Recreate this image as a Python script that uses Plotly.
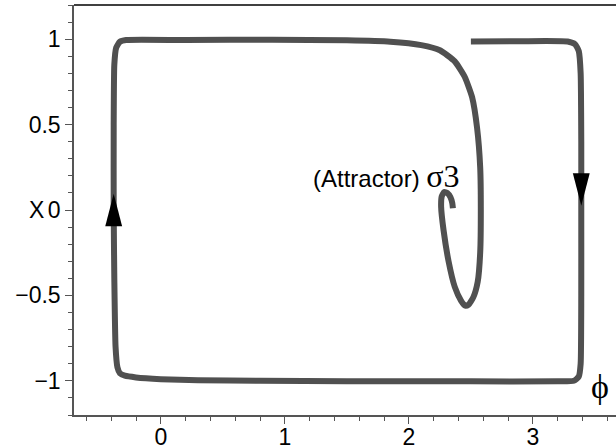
import plotly.graph_objects as go

# trajectory in the (phi, X0) plane
phi = [2.50, 2.90, 3.28, 3.34, 3.37, 3.385, 3.39, 3.39, 3.39, 3.385, 3.37, 3.33,
       3.20, 2.50, 1.50, 0.80, 0.30, 0.00, -0.20, -0.29, -0.33, -0.35, -0.365,
       -0.375, -0.38, -0.38, -0.375, -0.36, -0.33, -0.28, 0.20, 0.90, 1.50, 1.85,
       2.10, 2.25, 2.37, 2.45, 2.51, 2.55, 2.575, 2.58, 2.575, 2.555, 2.52, 2.48,
       2.455, 2.42, 2.37, 2.32, 2.28, 2.26, 2.265, 2.285, 2.31, 2.335, 2.35, 2.355]
x0 = [0.986, 0.988, 0.986, 0.97, 0.93, 0.80, 0.40, 0.0, -0.50, -0.90, -0.975, -1.0,
      -1.003, -1.003, -1.003, -1.0, -0.997, -0.99, -0.98, -0.97, -0.955, -0.92, -0.80,
      -0.40, 0.0, 0.50, 0.85, 0.95, 0.985, 0.995, 0.995, 0.997, 0.993, 0.985,
      0.965, 0.935, 0.87, 0.78, 0.66, 0.48, 0.25, 0.0, -0.25, -0.42, -0.51, -0.555,
      -0.56, -0.53, -0.45, -0.30, -0.12, 0.02, 0.08, 0.105, 0.10, 0.075, 0.04, 0.01]

# direction arrows: tip position and direction (+1 up, -1 down)
arrow_phi = [-0.38, 3.39]
arrow_x0 = [0.095, 0.025]
arrow_dir = [1, -1]

x_ticks = [0, 1, 2, 3]
y_ticks = [-1, -0.5, 0, 0.5, 1]
y_ticktext = ['\u22121', '\u22120.5', '0', '0.5', '1']

fig = go.Figure()

fig.add_trace(
    go.Scatter(
        x=phi,
        y=x0,
        mode='lines',
        line=dict(color='#505050', width=6, shape='spline', smoothing=0.5),
        hoverinfo='skip',
    )
)

half_w = 0.068
length = 0.19
for ax, ay, d in zip(arrow_phi, arrow_x0, arrow_dir):
    base = ay - d * length
    fig.add_trace(
        go.Scatter(
            x=[ax, ax - half_w, ax + half_w, ax],
            y=[ay, base, base, ay],
            mode='lines',
            fill='toself',
            fillcolor='black',
            line=dict(width=0, color='black'),
            hoverinfo='skip',
        )
    )

fig.add_annotation(
    x=2.425, y=0.2, xref='x', yref='y',
    text='(Attractor) <span style="font-family:Liberation Serif, DejaVu Serif; font-size:32px">\u03c33</span>',
    showarrow=False, xanchor='right', yanchor='middle',
    font=dict(family='Liberation Sans, Arial', size=24, color='black'),
)
fig.add_annotation(
    x=3.54, y=-1.035, xref='x', yref='y',
    text='\u03d5', showarrow=False, xanchor='center', yanchor='middle',
    font=dict(family='Liberation Serif, DejaVu Serif', size=34, color='black'),
)
fig.add_annotation(
    x=-0.069, y=0, xref='paper', yref='y',
    text='X', showarrow=False, xanchor='center', yanchor='middle',
    font=dict(family='Liberation Sans, Arial', size=23, color='black'),
)

# top border only (the right side is cut off in the original)
fig.add_shape(type='line', xref='paper', yref='paper', x0=0, x1=1, y0=1, y1=1,
              line=dict(color='black', width=1.5))

fig.update_xaxes(
    range=[-0.7, 3.67],
    tickvals=x_ticks,
    ticks='outside', ticklen=7, tickcolor='#555555', tickwidth=1,
    showline=True, linecolor='#555555', linewidth=1.5,
    showgrid=False, zeroline=False, automargin=False,
    ticklabelstandoff=-6,
    minor=dict(dtick=0.2, tick0=0, ticks='outside', ticklen=4, tickcolor='#555555'),
    tickfont=dict(family='Liberation Sans, Arial', size=23, color='black'),
)
fig.update_yaxes(
    range=[-1.2, 1.2],
    tickvals=y_ticks, ticktext=y_ticktext,
    ticks='outside', ticklen=7, tickcolor='#555555', tickwidth=1,
    showline=True, linecolor='#555555', linewidth=1.5,
    showgrid=False, zeroline=False, automargin=False,
    minor=dict(dtick=0.1, tick0=0, ticks='outside', ticklen=4, tickcolor='#555555'),
    tickfont=dict(family='Liberation Sans, Arial', size=23, color='black'),
)

fig.update_layout(
    width=616, height=446,
    margin=dict(l=74, r=0, t=5, b=31),
    plot_bgcolor='white', paper_bgcolor='white',
    showlegend=False,
)

# drop the page's default body margin so the figure sits at the window corner
fig.write_html("out.html", config={'displayModeBar': False},
               post_script="document.body.style.margin='0';")
